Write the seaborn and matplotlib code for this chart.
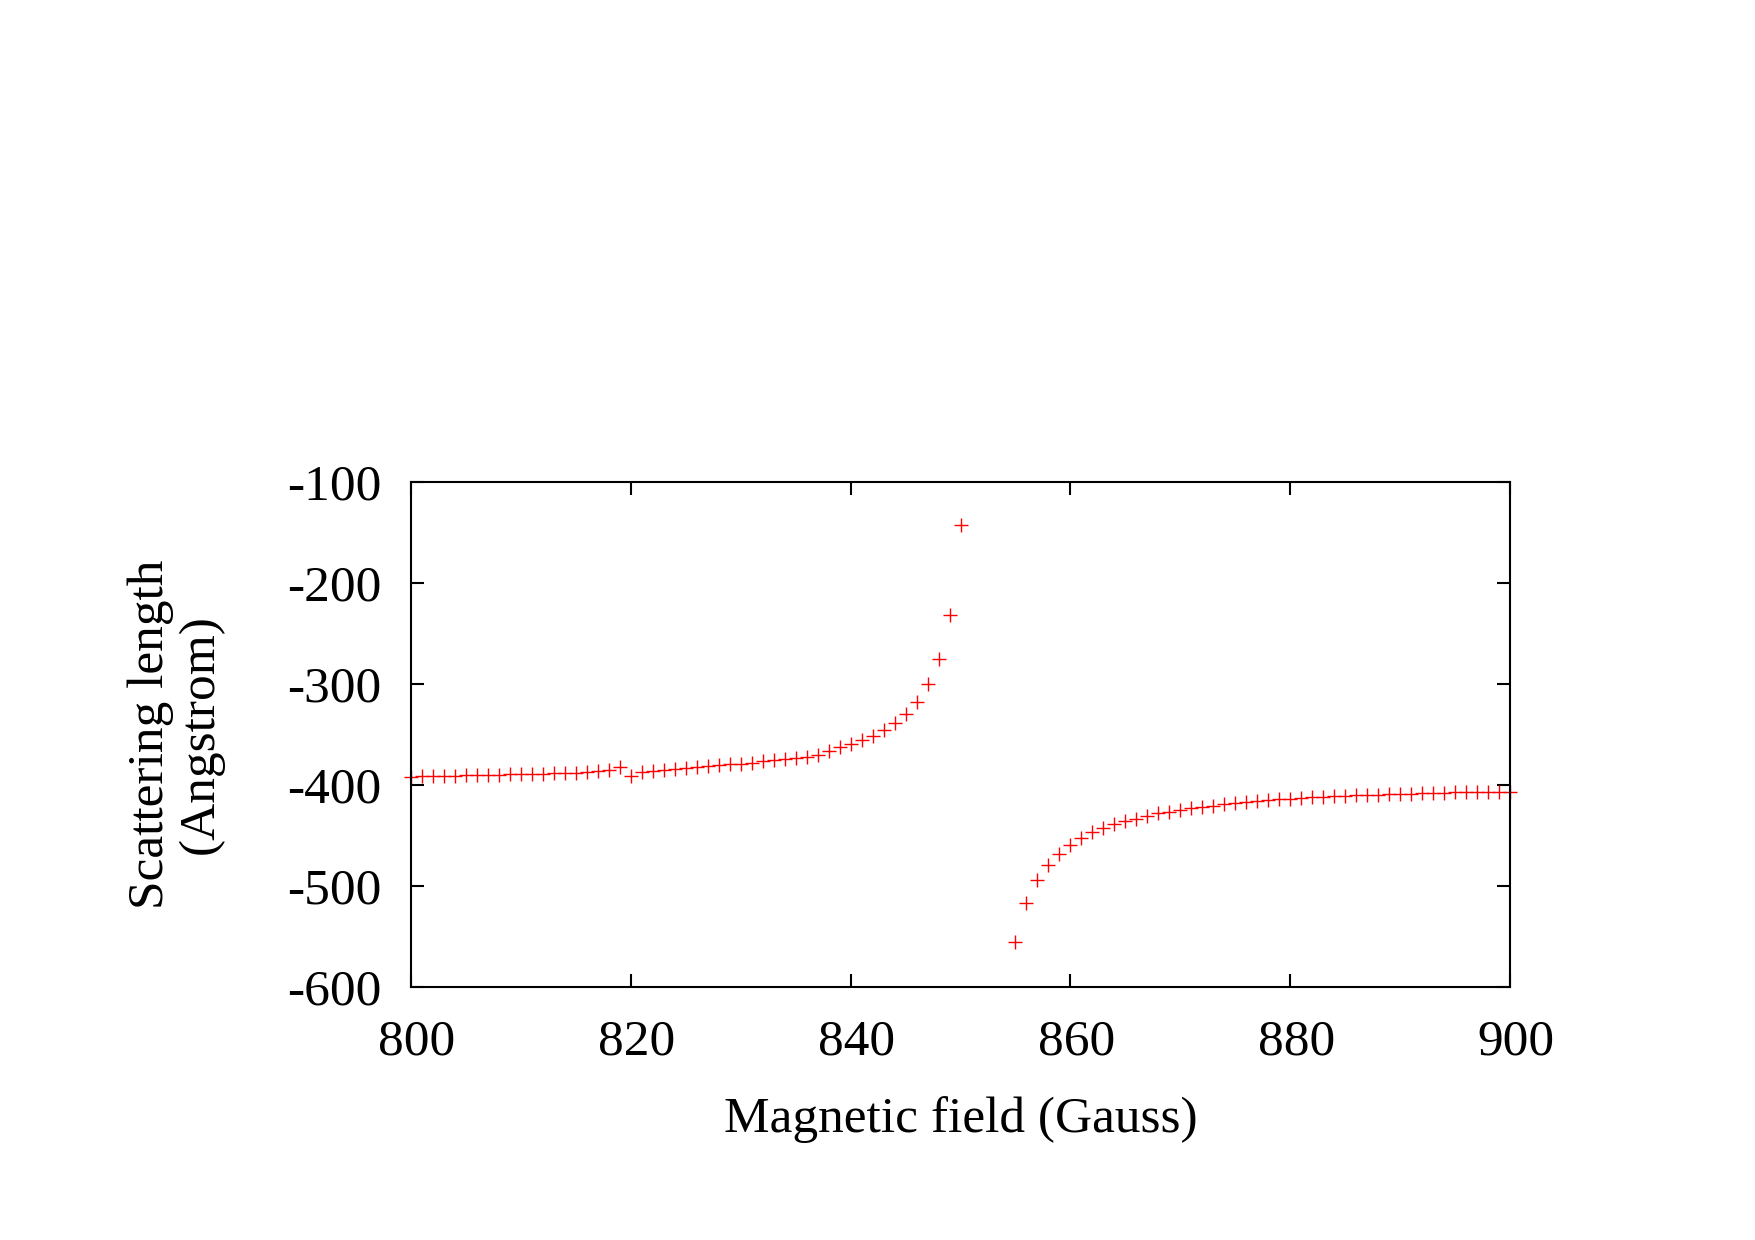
import matplotlib
matplotlib.use('Agg')
import matplotlib.pyplot as plt
import matplotlib.transforms as mtransforms
import seaborn as sns
import pandas as pd

# Magnetic field values (Gauss), 851-854 are off the scale and left out
field = list(range(800, 851)) + list(range(855, 901))

# Scattering length (Angstrom)
length_low = [-392.0, -391.6, -391.3, -390.9, -390.9, -390.6, -390.2, -390.2, -389.9, -389.5,
              -389.5, -389.2, -388.8, -388.5, -388.1, -387.8, -387.5, -386.5, -385.5, -382.5,
              -391.0, -387.3, -386.3, -385.3, -384.3, -383.5, -382.6, -381.6, -380.7, -379.6,
              -378.9, -377.9, -376.8, -375.7, -374.7, -373.3, -371.9, -370.1, -366.1, -362.7,
              -359.4, -355.5, -351.2, -345.6, -339.0, -329.8, -317.6, -300.4, -275.4, -231.8,
              -142.8]
length_high = [-555.1, -517.2, -494.1, -479.5, -468.6, -459.4, -452.8, -446.9, -442.2, -438.9,
               -435.6, -433.3, -430.7, -428.1, -426.4, -424.8, -423.1, -421.8, -420.5, -419.1,
               -418.2, -416.8, -416.2, -415.2, -414.2, -413.5, -412.9, -412.2, -411.9, -411.2,
               -410.6, -410.2, -409.9, -409.6, -409.2, -408.9, -408.6, -408.3, -407.9, -407.6,
               -407.3, -406.9, -406.9, -406.6, -406.6, -406.9]

df = pd.DataFrame({'field': field, 'length': length_low + length_high})

# gnuplot-like look: white background, ticks inside on all sides
sns.set_style('ticks')
plt.rcParams['font.family'] = ['Liberation Serif', 'DejaVu Serif']
plt.rcParams.update({'axes.linewidth': 1.5,
                     'axes.unicode_minus': False,
                     'text.color': 'black', 'axes.labelcolor': 'black',
                     'xtick.color': 'black', 'ytick.color': 'black',
                     'axes.edgecolor': 'black',
                     'xtick.direction': 'in', 'ytick.direction': 'in',
                     'xtick.major.size': 9.5, 'ytick.major.size': 9.5,
                     'xtick.major.width': 1.5, 'ytick.major.width': 1.5,
                     'xtick.top': True, 'ytick.right': True})

fig = plt.figure(figsize=(17.55, 12.40), dpi=100)
ax = fig.add_axes([0.2342, 0.204, 0.8604 - 0.2342, 0.6115 - 0.204])

sns.scatterplot(data=df, x='field', y='length', ax=ax,
                marker='+', color='red', s=90, linewidth=1.0, clip_on=False,
                legend=False)

ax.set_xlim(800, 900)
ax.set_ylim(-600, -100)
ax.set_xticks([800, 820, 840, 860, 880, 900])
ax.set_yticks([-600, -500, -400, -300, -200, -100])
ax.tick_params(axis='x', labelsize=37, pad=23)
ax.tick_params(axis='y', labelsize=37, pad=21)

# x tick labels sit a little right of their ticks in the original
shift = mtransforms.ScaledTranslation(6 / 100, 0, fig.dpi_scale_trans)
for lab in ax.get_xticklabels():
    lab.set_transform(lab.get_transform() + shift)

ax.set_xlabel('Magnetic field (Gauss)', fontsize=37, labelpad=22)
ax.set_ylabel('Scattering length\n(Angstrom)', fontsize=37, labelpad=46, linespacing=1.1)

for side in ['top', 'right', 'left', 'bottom']:
    ax.spines[side].set_visible(True)

plt.savefig('out.png', dpi=100)
